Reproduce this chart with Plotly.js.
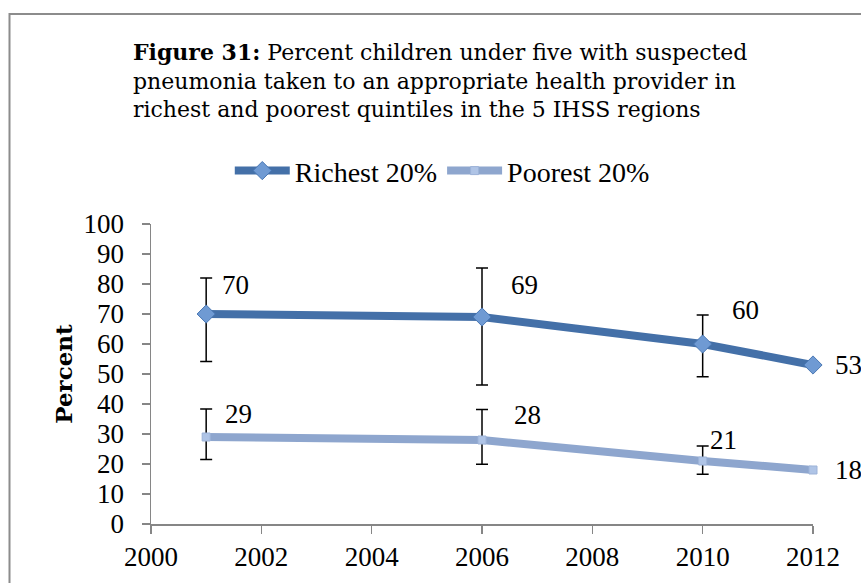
<!DOCTYPE html>
<html>
<head>
<meta charset="utf-8">
<script src="https://cdn.plot.ly/plotly-3.0.1.min.js"></script>
<style>html,body{margin:0;padding:0;background:#fff;}#chart{width:861px;height:583px;}</style>
</head>
<body>
<div id="chart"></div>
<script>
// ---- data ----
const years = [2001, 2006, 2010, 2012];
const richest = [70, 69, 60, 53];
const richestUpper = [82, 85.3, 69.7, null];
const richestLower = [54.2, 46.3, 49.1, null];
const poorest = [29, 28, 21, 18];
const poorestUpper = [38.3, 38.2, 26, null];
const poorestLower = [21.5, 19.9, 16.6, null];
const seriesNames = ["Richest 20%", "Poorest 20%"];
const xTicks = [2000, 2002, 2004, 2006, 2008, 2010, 2012];
const titleText = "<b>Figure 31:</b> Percent children under five with suspected<br>pneumonia taken to an appropriate health provider in<br>richest and poorest quintiles in the 5 IHSS regions";

// ---- helpers ----
function plus(v, up) { return v.map((d, i) => up[i] == null ? 0 : up[i] - d); }
function minus(v, lo) { return v.map((d, i) => lo[i] == null ? 0 : d - lo[i]); }

const FONT = "Liberation Serif, Times New Roman, serif";
const TFONT = "DejaVu Serif, serif";
const richColor = "#4470A8";
const poorColor = "#8EA6CE";

const errStyle = { color: "#000", thickness: 1.5, width: 6 };

const traces = [
  {
    x: years, y: richest, name: seriesNames[0], type: "scatter", mode: "lines+markers",
    line: { color: richColor, width: 8 },
    marker: { symbol: "diamond", size: 14, color: "#6F9AD3", line: { color: "#4A78B4", width: 1 } },
    error_y: Object.assign({ type: "data", symmetric: false, array: plus(richest, richestUpper), arrayminus: minus(richest, richestLower) }, errStyle),
    cliponaxis: false
  },
  {
    x: years, y: poorest, name: seriesNames[1], type: "scatter", mode: "lines+markers",
    line: { color: poorColor, width: 8 },
    marker: { symbol: "square", size: 8, color: "#AFC4E6", line: { color: "#9DB3D8", width: 1 } },
    error_y: Object.assign({ type: "data", symmetric: false, array: plus(poorest, poorestUpper), arrayminus: minus(poorest, poorestLower) }, errStyle),
    cliponaxis: false
  }
];

// label offsets (style)
const richOff = [[29, -29], [42, -32], [43, -34], [35, 0]];
const poorOff = [[32, -23], [45, -25], [21, -21], [35, 0]];
const annotations = [];
years.forEach((yr, i) => {
  annotations.push({ x: yr, y: richest[i], text: String(richest[i]), showarrow: false,
    xshift: richOff[i][0], yshift: -richOff[i][1], font: { family: FONT, size: 27, color: "#000" } });
  annotations.push({ x: yr, y: poorest[i], text: String(poorest[i]), showarrow: false,
    xshift: poorOff[i][0], yshift: -poorOff[i][1], font: { family: FONT, size: 27, color: "#000" } });
});

const axisCommon = {
  showgrid: false, zeroline: false, showline: true, linecolor: "#868686", linewidth: 1.5,
  ticks: "outside", ticklen: 8, tickcolor: "#868686", tickwidth: 1.5,
  tickfont: { family: FONT, size: 27, color: "#000" }
};

const layout = {
  width: 861, height: 583,
  margin: { l: 151, r: 48, t: 224, b: 59 },
  paper_bgcolor: "#fff", plot_bgcolor: "#fff",
  font: { family: FONT, color: "#000" },
  title: {
    text: titleText, xref: "container", yref: "container",
    x: 133 / 861, xanchor: "left", y: 1 - 60 / 583, yanchor: "top",
    font: { family: TFONT, size: 22, color: "#000" }
  },
  xaxis: Object.assign({}, axisCommon, { range: [2000, 2012], tickvals: xTicks, ticklabelstandoff: 0 }),
  yaxis: Object.assign({}, axisCommon, { range: [0, 100], dtick: 10, ticklabelstandoff: 12,
    title: { text: "<b>Percent</b>", standoff: 4, font: { family: TFONT, size: 23, color: "#000" } } }),
  showlegend: true,
  legend: {
    orientation: "h", x: 0.44, xanchor: "center", y: 1.177, yanchor: "middle",
    font: { family: FONT, size: 28, color: "#000" }, itemwidth: 55, bgcolor: "rgba(0,0,0,0)"
  },
  annotations: annotations,
  shapes: [{
    type: "rect", xref: "paper", yref: "paper",
    x0: (9.5 - 151) / 662, x1: 1.2, y0: -0.5, y1: 1 + (224 - 14) / 300,
    line: { color: "#8C8C8C", width: 2 }, layer: "below"
  }]
};

Plotly.newPlot("chart", traces, layout, { displayModeBar: false, staticPlot: true });
</script>
</body>
</html>
